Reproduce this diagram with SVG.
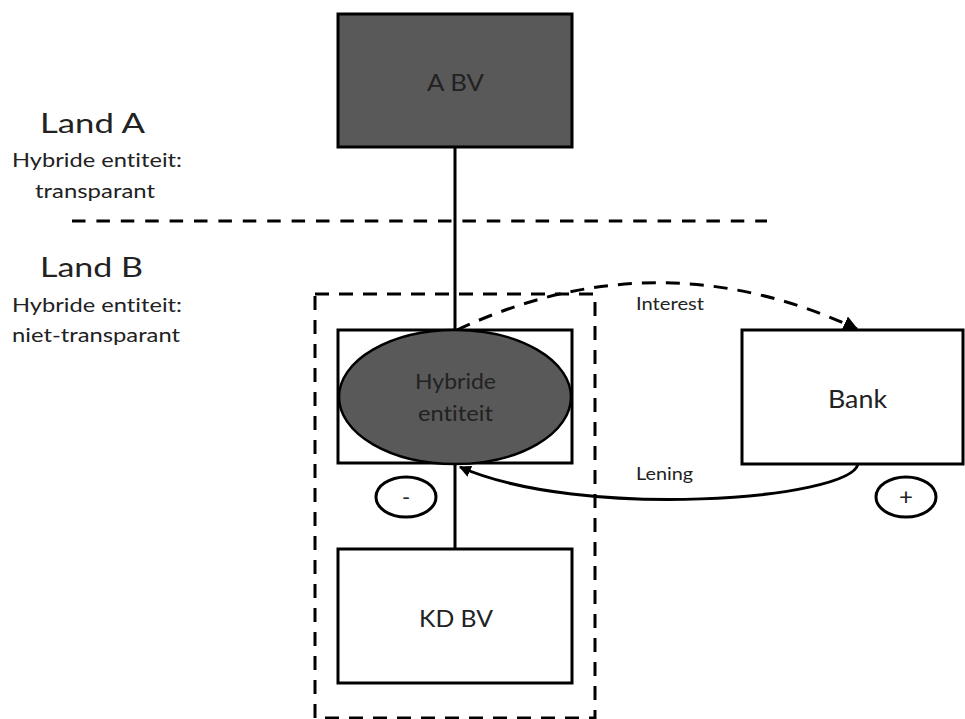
<svg xmlns="http://www.w3.org/2000/svg" width="965" height="719" viewBox="0 0 965 719">
<defs>
<style>
text{font-family:Lato,"Open Sans","Liberation Sans",sans-serif;fill:#222;font-variant-ligatures:none}
.box{stroke:#000;stroke-width:3;fill:#fff}
.dark{fill:#595959}
.ln{stroke:#000;stroke-width:3;fill:none}
.dash{stroke:#000;stroke-width:3;fill:none;stroke-dasharray:14 10}
.lbl{font-size:19.5px}
.big{font-size:26px}
.node{font-size:23.5px;text-anchor:middle}
.sm{font-size:18px}
</style>
<marker id="ah" viewBox="0 0 10 10" refX="9" refY="5" markerWidth="5" markerHeight="5" orient="auto" markerUnits="strokeWidth">
<path d="M0,0 L10,5 L0,10 z" fill="#000"/>
</marker>
<marker id="ah2" viewBox="0 0 10 10" refX="9" refY="5" markerWidth="4" markerHeight="4" orient="auto" markerUnits="strokeWidth">
<path d="M0,0 L10,5 L0,10 z" fill="#000"/>
</marker>
</defs>
<g id="labels">
<text x="40" y="133" class="big" textLength="105" lengthAdjust="spacingAndGlyphs">Land A</text>
<text x="12" y="167" class="lbl" textLength="170" lengthAdjust="spacingAndGlyphs">Hybride entiteit:</text>
<text x="35" y="198" class="lbl" textLength="120" lengthAdjust="spacingAndGlyphs">transparant</text>
<text x="40" y="277" class="big" textLength="103" lengthAdjust="spacingAndGlyphs">Land B</text>
<text x="12" y="312" class="lbl" textLength="170" lengthAdjust="spacingAndGlyphs">Hybride entiteit:</text>
<text x="12" y="342" class="lbl" textLength="168" lengthAdjust="spacingAndGlyphs">niet-transparant</text>
</g>
<g id="borders">
<line x1="72" y1="221" x2="767" y2="221" class="dash" style="stroke-dasharray:13.5 10.9"/>
<rect x="315" y="294" width="280" height="424" class="dash"/>
</g>
<g id="connectors">
<line x1="455" y1="147" x2="455" y2="549" class="ln"/>
<path d="M457,330 Q657,236 857,329" class="dash" marker-end="url(#ah)"/>
<path d="M858,464 C850,500 580,520 460,467" class="ln" stroke-width="2.5" marker-end="url(#ah2)"/>
<text x="636" y="310" class="sm" textLength="68" lengthAdjust="spacingAndGlyphs">Interest</text>
<text x="636" y="480" class="sm" textLength="57" lengthAdjust="spacingAndGlyphs">Lening</text>
</g>
<g id="a-bv">
<rect x="338" y="14" width="234" height="133" class="box dark"/>
<text x="455.5" y="91" class="node" textLength="57" lengthAdjust="spacingAndGlyphs">A BV</text>
</g>
<g id="hybride">
<rect x="338" y="330" width="234" height="133" class="box"/>
<ellipse cx="455" cy="397" rx="116" ry="67" class="dark" stroke="#000" stroke-width="2.5"/>
<text x="455.5" y="389" class="node" style="font-size:21px" textLength="81" lengthAdjust="spacingAndGlyphs">Hybride</text>
<text x="455.5" y="421" class="node" style="font-size:21px" textLength="75" lengthAdjust="spacingAndGlyphs">entiteit</text>
</g>
<g id="minus">
<ellipse cx="406" cy="497" rx="30" ry="20" class="ln" stroke-width="2.5"/>
<text x="406" y="505" class="node" style="font-size:22px">-</text>
</g>
<g id="bank">
<rect x="742" y="330" width="221" height="134" class="box"/>
<text x="857.5" y="408" class="node" style="font-size:24.5px" textLength="59" lengthAdjust="spacingAndGlyphs">Bank</text>
</g>
<g id="plus">
<ellipse cx="906" cy="497" rx="30" ry="20" class="ln" stroke-width="2.5"/>
<text x="906" y="505" class="node" style="font-size:24px">+</text>
</g>
<g id="kd-bv">
<rect x="338" y="549" width="234" height="134" class="box"/>
<text x="456" y="627" class="node" style="font-size:24px" textLength="74" lengthAdjust="spacingAndGlyphs">KD BV</text>
</g>
</svg>
